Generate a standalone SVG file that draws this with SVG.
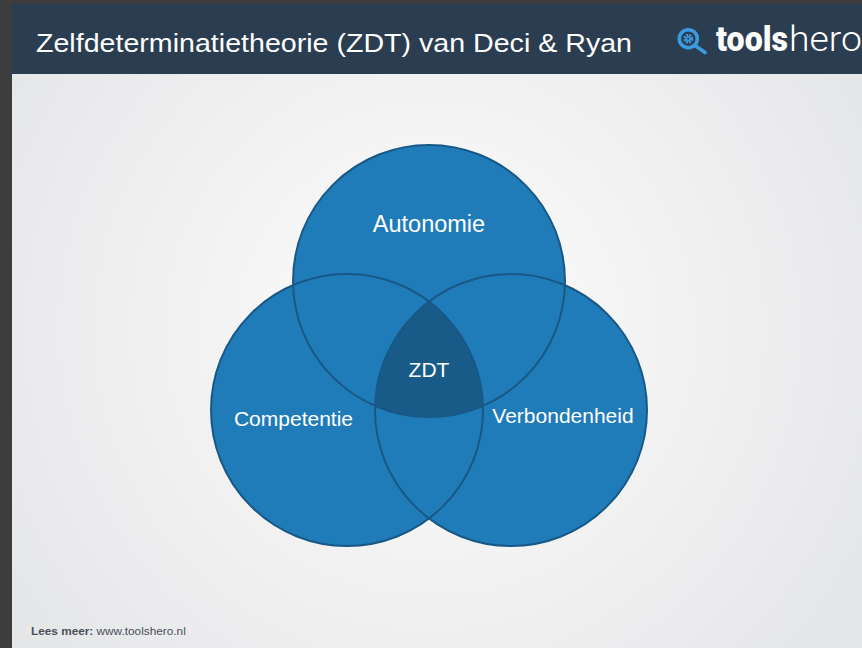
<svg xmlns="http://www.w3.org/2000/svg" width="862" height="648" viewBox="0 0 862 648">
<defs>
<radialGradient id="bg" cx="430" cy="330" r="480" gradientUnits="userSpaceOnUse">
<stop offset="0" stop-color="#fdfdfd"/>
<stop offset="0.55" stop-color="#f1f1f2"/>
<stop offset="1" stop-color="#e6e7e9"/>
</radialGradient>
<style>
.circ{fill:#1f7cb8}
.ring{fill:none;stroke:#185886;stroke-width:2}
.lbl{font-family:"Liberation Sans",Arial,sans-serif;fill:#ffffff;text-anchor:middle}
</style>
</defs>
<rect x="0" y="0" width="862" height="648" fill="#3d3d3d"/>
<rect x="12" y="74" width="850" height="574" fill="url(#bg)"/>
<rect x="12" y="4" width="850" height="70" fill="#2b3d50"/>
<text x="36" y="52" font-family="Liberation Sans, Arial, sans-serif" font-size="26" fill="#ffffff" textLength="596" lengthAdjust="spacingAndGlyphs">Zelfdeterminatietheorie (ZDT) van Deci &amp; Ryan</text>
<g id="logo">
<circle cx="688.3" cy="38.7" r="9" fill="none" stroke="#3b9be0" stroke-width="3.6"/>
<line x1="695" y1="45.5" x2="705" y2="52.5" stroke="#3b9be0" stroke-width="3.6" stroke-linecap="round"/>
<circle cx="688.3" cy="38.7" r="3.6" fill="none" stroke="#3b9be0" stroke-width="2.6" stroke-dasharray="1.9 1"/>
<circle cx="688.3" cy="38.7" r="2.6" fill="#3b9be0"/>
<circle cx="688.3" cy="38.7" r="1.1" fill="#2b3d50"/>
<text x="716" y="51" font-family="Roboto, 'Liberation Sans', sans-serif" font-size="35" font-weight="900" fill="#ffffff" textLength="72" lengthAdjust="spacingAndGlyphs">tools</text>
<text x="789" y="51" font-family="Roboto, 'Liberation Sans', sans-serif" font-size="35" font-weight="300" fill="#ffffff" textLength="73" lengthAdjust="spacingAndGlyphs">hero</text>
</g>
<g id="autonomie">
<circle class="circ" cx="429" cy="281" r="136"/>
</g>
<g id="competentie">
<circle class="circ" cx="347" cy="410" r="136"/>
</g>
<g id="verbondenheid">
<circle class="circ" cx="511" cy="410" r="136"/>
</g>
<g id="zdt">
<path d="M429 301.5 A136 136 0 0 0 375.07 405.84 A136 136 0 0 0 482.93 405.84 A136 136 0 0 0 429 301.5 Z" fill="#185a88"/>
</g>
<g id="outlines">
<circle class="ring" cx="429" cy="281" r="136"/>
<circle class="ring" cx="347" cy="410" r="136"/>
<circle class="ring" cx="511" cy="410" r="136"/>
</g>
<g id="labels">
<text class="lbl" x="429" y="232" font-size="23.5">Autonomie</text>
<text class="lbl" x="429" y="377" font-size="21">ZDT</text>
<text class="lbl" x="293.5" y="426" font-size="21">Competentie</text>
<text class="lbl" x="563" y="423" font-size="21">Verbondenheid</text>
</g>
<text x="31" y="635" font-family="Liberation Sans, Arial, sans-serif" font-size="11.8" fill="#4a4f57"><tspan font-weight="bold">Lees meer:</tspan> www.toolshero.nl</text>
</svg>
